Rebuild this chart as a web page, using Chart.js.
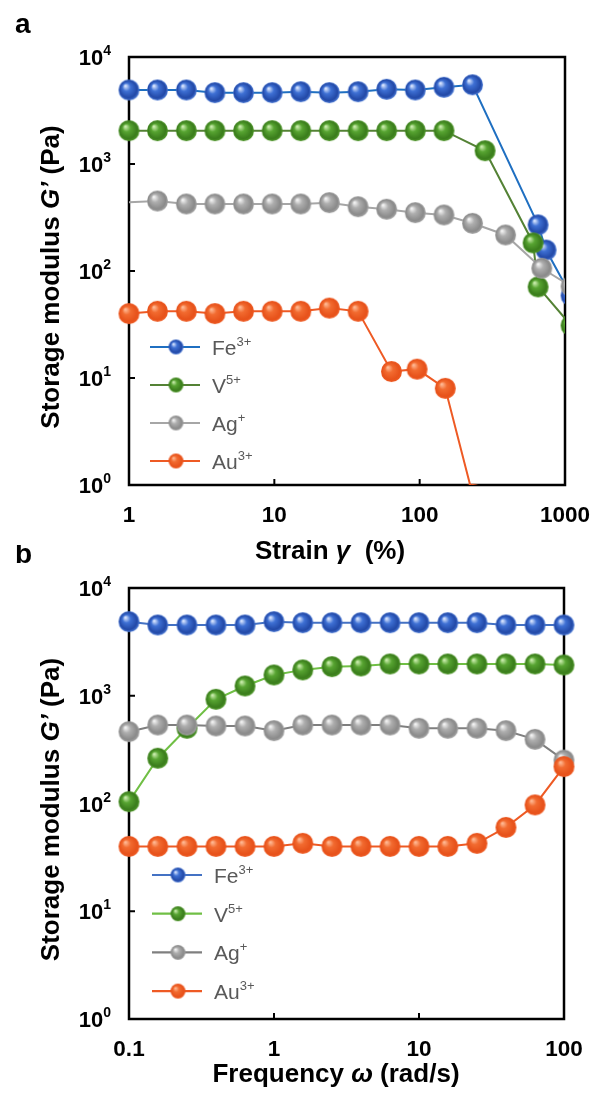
<!DOCTYPE html>
<html><head><meta charset="utf-8">
<script src="https://cdn.jsdelivr.net/npm/chart.js@4"></script>
<style>
html,body{margin:0;padding:0;background:#fff;}
#wrap{position:relative;width:594px;height:1093px;overflow:hidden;}
#c1{position:absolute;left:0;top:0;}
#c2{position:absolute;left:0;top:545px;}
</style></head><body>
<div id="wrap"><canvas id="c1" width="594" height="600"></canvas><canvas id="c2" width="594" height="548"></canvas></div>
<script>
// ---------- data ----------
const seriesNames   = ['Fe', 'V', 'Ag', 'Au'];
const seriesCharges = ['3+', '5+', '+', '3+'];
const yTickValues   = [1, 10, 100, 1000, 10000];
const yTickExps     = ['0', '1', '2', '3', '4'];
const strainTicks   = [1, 10, 100, 1000];
const strainTickLabels = ['1', '10', '100', '1000'];
const freqTicks     = [0.1, 1, 10, 100];
const freqTickLabels = ['0.1', '1', '10', '100'];

// panel a: strain sweep
const strainFe = [1, 1.57, 2.48, 3.9, 6.14, 9.66, 15.2, 23.9, 37.7, 59.3, 93.3, 147, 231, 653, 741, 1100];
const gFeA     = [4920, 4920, 4920, 4640, 4640, 4640, 4740, 4640, 4740, 4990, 4920, 5210, 5500, 270, 157, 59];
const strainV  = [1, 1.57, 2.48, 3.9, 6.14, 9.66, 15.2, 23.9, 37.7, 59.3, 93.3, 147, 282, 603, 653, 1100];
const gVA      = [2050, 2050, 2050, 2050, 2050, 2050, 2050, 2050, 2050, 2050, 2050, 2050, 1330, 183, 71, 31];
const strainAg = [0.8, 1.57, 2.48, 3.9, 6.14, 9.66, 15.2, 23.9, 37.7, 59.3, 93.3, 147, 231, 390, 692, 1100];
const gAgA     = [432, 451, 423, 423, 423, 423, 423, 435, 399, 378, 351, 334, 279, 217, 106, 72];
const strainAu = [1, 1.57, 2.48, 3.9, 6.14, 9.66, 15.2, 23.9, 37.7, 64, 96, 150, 231];
const gAuA     = [40, 42, 42, 40, 42, 42, 42, 45, 42, 11.5, 12.1, 8.0, 0.82];

// panel b: frequency sweep
const freq  = [0.1, 0.158, 0.251, 0.398, 0.631, 1, 1.58, 2.51, 3.98, 6.31, 10, 15.8, 25.1, 39.8, 63.1, 100];
const gFeB  = [4870, 4540, 4540, 4540, 4540, 4870, 4760, 4760, 4760, 4760, 4760, 4760, 4760, 4540, 4540, 4540];
const gVB   = [104, 263, 499, 927, 1232, 1560, 1738, 1862, 1889, 1972, 1972, 1972, 1972, 1972, 1972, 1930];
const gAgB  = [464, 535, 535, 524, 524, 474, 535, 535, 535, 535, 499, 499, 499, 474, 394, 253];
const gAuB  = [40, 40, 40, 40, 40, 40, 42.7, 40, 40, 40, 40, 40, 42.7, 60, 97, 220];

// ---------- styles ----------
const FONT = '"Liberation Sans", Arial, Helvetica, sans-serif';
const sphereStyles = [
  {hi:'#dbe7ff', base:'#3e70d4', dark:'#2248a6', rim:'#4b7ad6'},
  {hi:'#cdeeb0', base:'#57a431', dark:'#3a7c1c', rim:'#4f9729'},
  {hi:'#f4f4f4', base:'#aeaeae', dark:'#8a8a8a', rim:'#a3a3a3'},
  {hi:'#ffb994', base:'#f26b30', dark:'#e7521b', rim:'#ee5a22'}
];
const lineColorsA = ['#1f6fc1', '#548235', '#a6a6a6', '#ee5a24'];
const lineColorsB = ['#4472c4', '#70bf45', '#7f7f7f', '#ee5a24'];

function makeSphere(r, c) {
  const s = Math.ceil(2 * r + 2);
  const cv = document.createElement('canvas');
  cv.width = s; cv.height = s;
  const g = cv.getContext('2d');
  const cx = s / 2, cy = s / 2;
  const grad = g.createRadialGradient(cx - r * 0.35, cy - r * 0.4, r * 0.05, cx, cy, r);
  grad.addColorStop(0, c.hi);
  grad.addColorStop(0.35, c.base);
  grad.addColorStop(0.82, c.dark);
  grad.addColorStop(1, c.rim);
  g.fillStyle = grad;
  g.beginPath(); g.arc(cx, cy, r, 0, Math.PI * 2); g.fill();
  return cv;
}
const bigSpheres = sphereStyles.map(c => makeSphere(10.5, c));
const smallSpheres = sphereStyles.map(c => makeSphere(7.5, c));

function richWidth(ctx, parts) {
  let w = 0;
  parts.forEach(p => { ctx.font = p.f; w += ctx.measureText(p.t).width; });
  return w;
}
function drawRich(ctx, parts, x, y, align) {
  const w = richWidth(ctx, parts);
  let cx = align === 'right' ? x - w : align === 'center' ? x - w / 2 : x;
  parts.forEach(p => {
    ctx.font = p.f;
    ctx.fillText(p.t, cx, y + (p.dy || 0));
    cx += ctx.measureText(p.t).width;
  });
}

function panelPlugin(cfg) {
  return {
    id: 'panel' + cfg.key,
    beforeDatasetsDraw(chart) {
      const {ctx, chartArea: a, scales: {x, y}} = chart;
      ctx.save();
      ctx.strokeStyle = '#000';
      ctx.lineWidth = 2.5;
      ctx.strokeRect(a.left, a.top, a.right - a.left, a.bottom - a.top);
      ctx.lineWidth = 2;
      yTickValues.forEach(v => {
        const py = y.getPixelForValue(v);
        ctx.beginPath(); ctx.moveTo(a.left, py); ctx.lineTo(a.left + 6, py); ctx.stroke();
      });
      cfg.xTicks.forEach(v => {
        const px = x.getPixelForValue(v);
        ctx.beginPath(); ctx.moveTo(px, a.bottom); ctx.lineTo(px, a.bottom - 6); ctx.stroke();
      });
      ctx.restore();
    },
    afterDraw(chart) {
      const {ctx, chartArea: a, scales: {x, y}} = chart;
      ctx.save();
      ctx.fillStyle = '#000';
      ctx.textBaseline = 'alphabetic';
      // panel letter
      ctx.font = 'bold 28px ' + FONT;
      ctx.fillText(cfg.letter, 15, cfg.letterY);
      // y tick labels
      yTickValues.forEach((v, i) => {
        const py = y.getPixelForValue(v);
        drawRich(ctx, [
          {t: '10', f: 'bold 22px ' + FONT},
          {t: yTickExps[i], f: 'bold 14px ' + FONT, dy: -10}
        ], 111, py + 8, 'right');
      });
      // x tick labels
      ctx.font = 'bold 22.5px ' + FONT;
      ctx.textAlign = 'center';
      cfg.xTicks.forEach((v, i) => {
        ctx.fillText(cfg.xTickLabels[i], x.getPixelForValue(v), a.bottom + 37);
      });
      ctx.textAlign = 'left';
      // x title
      drawRich(ctx, cfg.xTitle, cfg.xTitleX, a.bottom + cfg.xTitleDy, 'center');
      // y title
      ctx.save();
      ctx.translate(59, (a.top + a.bottom) / 2 + 6);
      ctx.rotate(-Math.PI / 2);
      drawRich(ctx, [
        {t: 'Storage modulus ', f: 'bold 26px ' + FONT},
        {t: 'G’', f: 'italic bold 26px ' + FONT},
        {t: ' (Pa)', f: 'bold 26px ' + FONT}
      ], 0, 0, 'center');
      ctx.restore();
      // legend
      seriesNames.forEach((n, i) => {
        const ly = cfg.legendY + i * cfg.legendGap;
        ctx.strokeStyle = cfg.lineColors[i];
        ctx.lineWidth = 2.2;
        ctx.beginPath(); ctx.moveTo(cfg.legendX, ly); ctx.lineTo(cfg.legendX + 50, ly); ctx.stroke();
        const sp = smallSpheres[i];
        ctx.drawImage(sp, cfg.legendX + 26 - sp.width / 2, ly - sp.height / 2);
        ctx.fillStyle = '#595959';
        drawRich(ctx, [
          {t: n, f: '21px ' + FONT},
          {t: seriesCharges[i], f: '13px ' + FONT, dy: -9}
        ], cfg.legendX + 62, ly + 8, 'left');
      });
      ctx.restore();
    }
  };
}

function buildDatasets(xsList, ysList, lineColors, clips) {
  return xsList.map((xs, i) => ({
    label: seriesNames[i],
    data: xs.map((xv, j) => ({x: xv, y: ysList[i][j]})),
    borderColor: lineColors[i],
    backgroundColor: lineColors[i],
    borderWidth: 2,
    pointStyle: bigSpheres[i],
    pointRadius: 10.5,
    pointHoverRadius: 10.5,
    order: 4 - i,
    clip: clips[i],
    tension: 0
  }));
}

function makeChart(canvasId, cfg) {
  return new Chart(document.getElementById(canvasId), {
    type: 'line',
    data: {datasets: cfg.datasets},
    options: {
      responsive: false,
      animation: false,
      devicePixelRatio: 1,
      layout: {padding: {top: cfg.padTop, right: cfg.padRight, left: 0, bottom: 0}},
      plugins: {legend: {display: false}, tooltip: {enabled: false}},
      scales: {
        x: {
          type: 'logarithmic', min: cfg.xTicks[0], max: cfg.xTicks[cfg.xTicks.length - 1],
          afterBuildTicks: s => { s.ticks = cfg.xTicks.map(v => ({value: v})); },
          ticks: {display: false}, grid: {display: false}, border: {display: false},
          afterFit: s => { s.height = cfg.xHeight; }
        },
        y: {
          type: 'logarithmic', min: yTickValues[0], max: yTickValues[yTickValues.length - 1],
          afterBuildTicks: s => { s.ticks = yTickValues.map(v => ({value: v})); },
          ticks: {display: false}, grid: {display: false}, border: {display: false},
          afterFit: s => { s.width = 129; }
        }
      }
    },
    plugins: [panelPlugin(cfg)]
  });
}

const clipA = {left: false, top: false, right: 0, bottom: 0};
const clipAgA = {left: 0, top: false, right: 0, bottom: 0};
makeChart('c1', {
  key: 'a', letter: 'a', letterY: 33,
  xTicks: strainTicks, xTickLabels: strainTickLabels,
  padTop: 57, padRight: 29, xHeight: 115,
  xTitle: [
    {t: 'Strain ', f: 'bold 26px ' + FONT},
    {t: 'γ', f: 'italic bold 26px ' + FONT},
    {t: '  (%)', f: 'bold 26px ' + FONT}
  ],
  xTitleX: 330, xTitleDy: 74,
  lineColors: lineColorsA,
  legendX: 150, legendY: 347, legendGap: 38,
  datasets: buildDatasets([strainFe, strainV, strainAg, strainAu], [gFeA, gVA, gAgA, gAuA], lineColorsA,
    [clipA, clipA, clipAgA, clipA])
});
makeChart('c2', {
  key: 'b', letter: 'b', letterY: 18,
  xTicks: freqTicks, xTickLabels: freqTickLabels,
  padTop: 43, padRight: 30, xHeight: 74,
  xTitle: [
    {t: 'Frequency ', f: 'bold 26px ' + FONT},
    {t: 'ω', f: 'italic bold 26px ' + FONT},
    {t: ' (rad/s)', f: 'bold 26px ' + FONT}
  ],
  xTitleX: 336, xTitleDy: 63,
  lineColors: lineColorsB,
  legendX: 152, legendY: 330, legendGap: 38.7,
  datasets: buildDatasets([freq, freq, freq, freq], [gFeB, gVB, gAgB, gAuB], lineColorsB,
    [false, false, false, false])
});
</script>
</body></html>
